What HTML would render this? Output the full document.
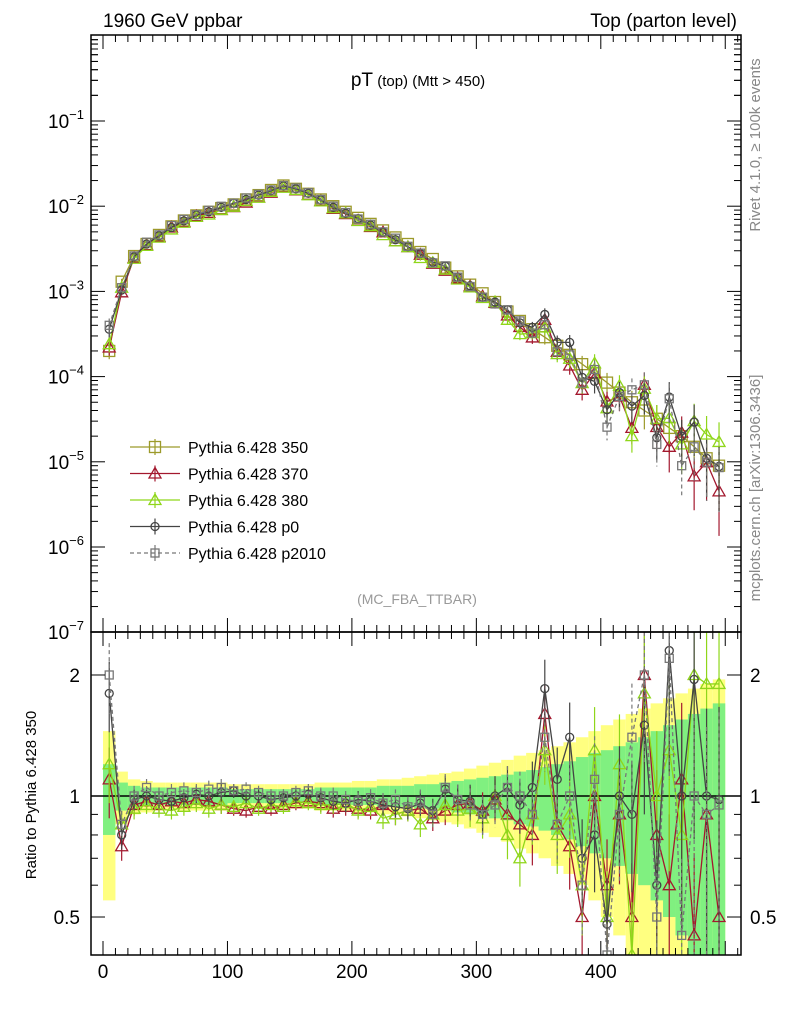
<!DOCTYPE html>
<html><head><meta charset="utf-8"><style>
html,body{margin:0;padding:0;background:#fff;overflow:hidden}
svg{display:block;font-family:"Liberation Sans",sans-serif}
</style></head><body>
<svg id="c" width="786" height="1024" viewBox="0 0 786 1024" xmlns="http://www.w3.org/2000/svg">
<text x="103" y="27" font-size="19">1960 GeV ppbar</text>
<text x="737" y="27" font-size="19" text-anchor="end">Top (parton level)</text>
<text x="418" y="86" text-anchor="middle"><tspan font-size="19">pT</tspan><tspan font-size="15"> (top) (Mtt &gt; 450)</tspan></text>
<text x="417" y="604" font-size="14" fill="#999" text-anchor="middle">(MC_FBA_TTBAR)</text>
<text transform="translate(760,145) rotate(-90)" font-size="15" fill="#888" text-anchor="middle">Rivet 4.1.0, ≥ 100k events</text>
<text transform="translate(760,488) rotate(-90)" font-size="15" fill="#888" text-anchor="middle">mcplots.cern.ch [arXiv:1306.3436]</text>
<text transform="translate(36,795) rotate(-90)" font-size="15" text-anchor="middle">Ratio to Pythia 6.428 350</text>
</svg>
<script>
const labels=["Pythia 6.428 350","Pythia 6.428 370","Pythia 6.428 380","Pythia 6.428 p0","Pythia 6.428 p2010"];
const base=[2e-4,1.3e-3,2.6e-3,3.6e-3,4.6e-3,5.8e-3,6.8e-3,7.8e-3,8.6e-3,9.5e-3,1.05e-2,1.2e-2,1.35e-2,1.55e-2,1.75e-2,1.6e-2,1.4e-2,1.2e-2,1.0e-2,8.6e-3,7.3e-3,6.2e-3,5.2e-3,4.3e-3,3.6e-3,2.9e-3,2.4e-3,1.9e-3,1.5e-3,1.2e-3,9.5e-4,7.5e-4,5.8e-4,4.5e-4,3.6e-4,2.9e-4,2.3e-4,1.8e-4,1.4e-4,1.1e-4,8.5e-5,6.5e-5,5e-5,4e-5,3.2e-5,2.5e-5,2e-5,1.5e-5,1.1e-5,9e-6];
const r370=[1.1,0.75,0.95,0.97,0.95,0.97,0.96,0.98,0.97,0.95,0.93,0.92,0.94,0.93,0.95,0.96,0.97,0.96,0.93,0.94,0.93,0.92,0.95,0.9,0.92,0.93,0.88,0.92,0.95,0.96,0.92,0.98,0.9,0.85,0.8,1.6,0.85,0.75,0.5,1.0,0.6,0.9,0.5,2.0,0.8,0.6,1.1,0.45,0.9,0.5];
const r380=[1.2,0.85,0.93,0.95,0.93,0.92,0.94,0.96,0.93,0.95,0.94,0.96,0.93,0.95,0.94,0.97,0.96,0.95,0.95,0.96,0.92,0.94,0.88,0.9,0.92,0.85,0.9,0.95,0.92,0.93,0.88,1.0,0.8,0.7,0.9,1.3,0.8,0.9,0.6,1.3,0.5,1.2,0.4,1.8,1.0,1.3,0.8,2.0,1.9,1.9];
const rp0=[1.8,0.8,0.98,1.0,0.98,0.97,0.99,1.01,1.0,1.02,1.03,1.0,1.0,0.98,0.99,1.0,1.01,0.99,0.97,0.96,0.98,0.97,0.95,0.94,0.93,0.96,0.92,1.04,0.98,0.97,0.9,1.0,1.05,0.95,1.05,1.85,1.1,1.4,0.7,0.8,0.48,1.0,0.9,1.5,0.6,2.3,1.0,1.95,1.0,0.98];
const rp2010=[2.0,0.85,1.0,1.05,1.0,1.02,1.03,1.02,1.04,1.05,1.03,1.04,1.02,1.0,1.0,1.02,1.03,1.0,1.0,0.98,0.97,0.99,0.96,0.98,0.94,0.97,0.9,1.05,0.98,0.95,0.9,0.95,1.05,1.0,0.9,1.4,0.85,1.0,0.6,1.1,0.3,0.9,1.4,2.0,0.5,2.2,0.45,1.0,0.9,0.95];
const bandY=[0.45,0.15,0.1,0.09,0.08,0.08,0.08,0.08,0.08,0.08,0.07,0.07,0.07,0.07,0.07,0.07,0.07,0.08,0.08,0.08,0.09,0.09,0.1,0.1,0.11,0.12,0.13,0.14,0.15,0.17,0.19,0.21,0.23,0.26,0.28,0.3,0.33,0.36,0.4,0.45,0.5,0.55,0.6,0.65,0.7,0.75,0.8,0.85,0.9,0.95];
const bandG=[0.2,0.08,0.06,0.05,0.05,0.05,0.05,0.05,0.05,0.05,0.04,0.04,0.04,0.04,0.04,0.04,0.04,0.05,0.05,0.05,0.05,0.05,0.06,0.06,0.06,0.07,0.07,0.08,0.09,0.1,0.11,0.12,0.13,0.15,0.16,0.18,0.2,0.22,0.25,0.28,0.3,0.33,0.36,0.4,0.45,0.5,0.55,0.6,0.65,0.7];
const xTicks=[0,100,200,300,400];
const svg=document.getElementById('c');const NS='http://www.w3.org/2000/svg';
function el(t,a,p){const e=document.createElementNS(NS,t);for(const k in a)e.setAttribute(k,a[k]);(p||svg).appendChild(e);return e;}
const L=91,R=741,T=35,M=632,B=955;
const X=v=>103+v*1.2445;
const Y=v=>Math.min(M,Math.max(T,121-(Math.log10(v)+1)*85.2));
const YR=v=>Math.min(B,Math.max(M,796-Math.log10(v)*402));
const cx=i=>5+10*i;
const series=[
{n:'350',c:'#9c9a2a',m:'sq',r:null,d:''},
{n:'370',c:'#a3182e',m:'tri',r:r370,d:''},
{n:'380',c:'#8fd61a',m:'tri',r:r380,d:''},
{n:'p0',c:'#444',m:'circ',r:rp0,d:''},
{n:'p2010',c:'#777',m:'sq2',r:rp2010,d:'4,3'}];
const defs=el('defs',{});
const c1=el('clipPath',{id:'cm'},defs);el('rect',{x:L,y:T,width:R-L,height:M-T},c1);
const c2=el('clipPath',{id:'cr'},defs);el('rect',{x:L,y:M,width:R-L,height:B-M},c2);
const gb=el('g',{'clip-path':'url(#cr)'});


bandY.forEach((w,i)=>{const x0=X(cx(i)-5),x1=X(cx(i)+5);
 const r=el('rect',{x:x0,y:YR(1+w),width:x1-x0,height:YR(Math.max(1-w,0.05))-YR(1+w),fill:'#ffff80'},gb);
 });
bandG.forEach((w,i)=>{const x0=X(cx(i)-5),x1=X(cx(i)+5);
 const r=el('rect',{x:x0,y:YR(1+w),width:x1-x0,height:YR(Math.max(1-w,0.05))-YR(1+w),fill:'#80f080'},gb);
 });
el('line',{x1:L,x2:R,y1:796,y2:796,stroke:'#000','stroke-width':1.5});
function marker(g,t,x,y,c){
 if(t==='sq')el('rect',{x:x-5.5,y:y-5.5,width:11,height:11,fill:'none',stroke:c,'stroke-width':1.3},g);
 else if(t==='sq2')el('rect',{x:x-4,y:y-4,width:8,height:8,fill:'none',stroke:c,'stroke-width':1.3},g);
 else if(t==='tri')el('path',{d:`M${x},${y-6}L${x+6},${y+4.5}L${x-6},${y+4.5}Z`,fill:'none',stroke:c,'stroke-width':1.3},g);
 else el('circle',{cx:x,cy:y,r:4,fill:'none',stroke:c,'stroke-width':1.3},g);}
series.forEach(s=>{
 const vals=base.map((b,i)=>b*(s.r?s.r[i]:1));
 const g=el('g',{'clip-path':'url(#cm)'});
 
 el('polyline',{points:vals.map((v,i)=>X(cx(i))+','+Y(v)).join(' '),fill:'none',stroke:s.c,'stroke-width':1.3,'stroke-dasharray':s.d},g);
 vals.forEach((v,i)=>{const e=v*bandG[i];el('line',{x1:X(cx(i)),x2:X(cx(i)),y1:Y(v+e),y2:Y(Math.max(v-e,1e-8)),stroke:s.c,'stroke-width':1.2,'stroke-dasharray':s.d},g);marker(g,s.m,X(cx(i)),Y(v),s.c);});
 const gr=el('g',{'clip-path':'url(#cr)'});
 
 if(s.r){const rv=s.r;el('polyline',{points:rv.map((v,i)=>X(cx(i))+','+YR(v)).join(' '),fill:'none',stroke:s.c,'stroke-width':1.3,'stroke-dasharray':s.d},gr);
 rv.forEach((v,i)=>{const e=v*bandG[i];el('line',{x1:X(cx(i)),x2:X(cx(i)),y1:YR(v+e),y2:YR(Math.max(v-e,0.05)),stroke:s.c,'stroke-width':1.2,'stroke-dasharray':s.d},gr);marker(gr,s.m,X(cx(i)),YR(v),s.c);});}
});
el('rect',{x:L,y:T,width:R-L,height:M-T,fill:'none',stroke:'#000','stroke-width':1.5});
el('rect',{x:L,y:M,width:R-L,height:B-M,fill:'none',stroke:'#000','stroke-width':1.5});
for(let d=-7;d<=-1;d++){for(let k=1;k<10;k++){const y=121-(Math.log10(k*Math.pow(10,d))+1)*85.2;if(y<T||y>M)continue;const len=k===1?14:7;
 el('line',{x1:L,x2:L+len,y1:y,y2:y,stroke:'#000'});el('line',{x1:R,x2:R-len,y1:y,y2:y,stroke:'#000'});}
 const t=el('text',{x:84,y:121-(d+1)*85.2+7,'font-size':19,'text-anchor':'end'});
 t.innerHTML='10<tspan dy="-9" font-size="13">'+'−'+(-d)+'</tspan>';}
for(let k=2;k<10;k++){const y=121-Math.log10(k)*85.2;if(y>=T){el('line',{x1:L,x2:L+7,y1:y,y2:y,stroke:'#000'});el('line',{x1:R,x2:R-7,y1:y,y2:y,stroke:'#000'});}}
[0.5,0.6,0.7,0.8,0.9,1,2].forEach(v=>{const y=YR(v);const len=(v===1||v===2||v===0.5)?14:7;el('line',{x1:L,x2:L+len,y1:y,y2:y,stroke:'#000'});el('line',{x1:R,x2:R-len,y1:y,y2:y,stroke:'#000'});});
[[2,'2'],[1,'1'],[0.5,'0.5']].forEach(([v,s])=>{const a=el('text',{x:80,y:YR(v)+7,'font-size':19,'text-anchor':'end'});a.textContent=s;
 const b=el('text',{x:750,y:YR(v)+7,'font-size':19});b.textContent=s;});
for(let v=-10;v<=510;v+=10){const x=X(v);if(x<L||x>R)continue;const len=v%100===0?14:7;
 [[T,1],[M,-1],[M,1],[B,-1]].forEach(([y,s])=>el('line',{x1:x,x2:x,y1:y,y2:y+s*len,stroke:'#000'}));}
xTicks.forEach(v=>{const t=el('text',{x:X(v),y:978,'font-size':19,'text-anchor':'middle'});t.textContent=v;});
const lg=el('g',{});
series.forEach((s,i)=>{const y=447+i*26.5;const g=el('g',{},lg);
 el('line',{x1:130,x2:180,y1:y,y2:y,stroke:s.c,'stroke-width':1.3,'stroke-dasharray':s.d},g);
 el('line',{x1:155,x2:155,y1:y-8,y2:y+8,stroke:s.c,'stroke-width':1.2},g);
 marker(g,s.m,155,y,s.c);
 const t=el('text',{x:188,y:y+6,'font-size':16},g);t.textContent=labels[i];});
</script>
</body></html>
